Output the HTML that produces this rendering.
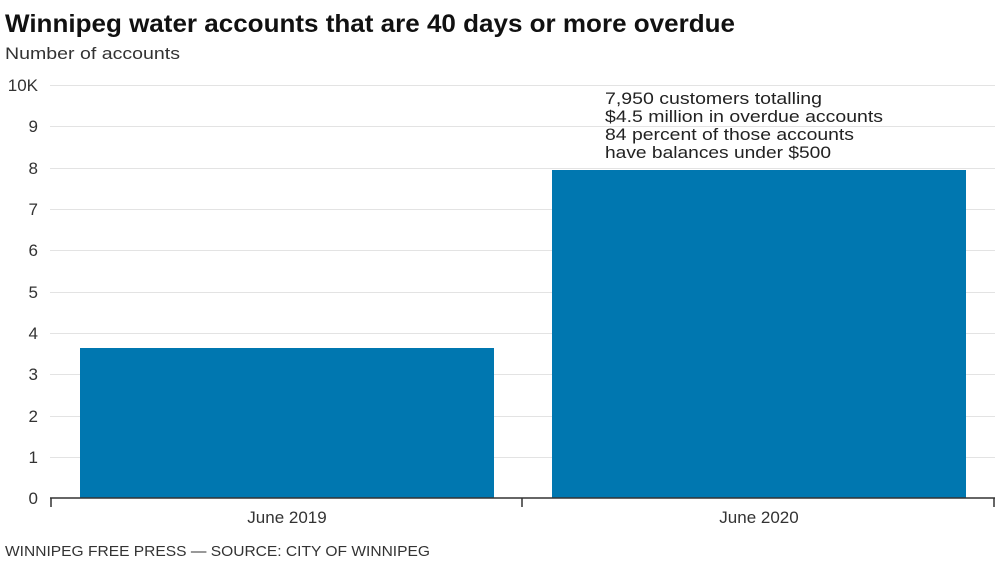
<!DOCTYPE html>
<html><head><meta charset="utf-8"><style>
body{margin:0;background:#fff;}
svg text{font-family:"Liberation Sans",sans-serif;}
</style></head><body>
<svg width="1000" height="561" xmlns="http://www.w3.org/2000/svg">
<text x="5" y="32" font-size="25" font-weight="bold" fill="#111" textLength="730" lengthAdjust="spacingAndGlyphs">Winnipeg water accounts that are 40 days or more overdue</text>
<text x="5" y="59" font-size="17" fill="#333" textLength="175" lengthAdjust="spacingAndGlyphs">Number of accounts</text>
<g stroke="#e3e3e3" stroke-width="1">
<line x1="50" x2="995" y1="85.5" y2="85.5"/><line x1="50" x2="995" y1="126.5" y2="126.5"/>
<line x1="50" x2="995" y1="168.5" y2="168.5"/><line x1="50" x2="995" y1="209.5" y2="209.5"/>
<line x1="50" x2="995" y1="250.5" y2="250.5"/><line x1="50" x2="995" y1="292.5" y2="292.5"/>
<line x1="50" x2="995" y1="333.5" y2="333.5"/><line x1="50" x2="995" y1="374.5" y2="374.5"/>
<line x1="50" x2="995" y1="416.5" y2="416.5"/><line x1="50" x2="995" y1="457.5" y2="457.5"/>
</g>
<g font-size="17" fill="#333" text-anchor="end">
<text x="38" y="91">10K</text><text x="38" y="132">9</text><text x="38" y="174">8</text>
<text x="38" y="215">7</text><text x="38" y="256">6</text><text x="38" y="298">5</text>
<text x="38" y="339">4</text><text x="38" y="380">3</text><text x="38" y="422">2</text>
<text x="38" y="463">1</text><text x="38" y="504">0</text>
</g>
<rect x="80" y="348" width="414" height="150" fill="#0077b0"/>
<rect x="552" y="170" width="414" height="328" fill="#0077b0"/>
<g stroke="#333" stroke-width="1.5">
<line x1="50" x2="995" y1="498" y2="498"/>
<line x1="51" x2="51" y1="498" y2="507"/>
<line x1="522" x2="522" y1="498" y2="507"/>
<line x1="994" x2="994" y1="498" y2="507"/>
</g>
<g font-size="17" fill="#333" text-anchor="middle">
<text x="287" y="523">June 2019</text><text x="759" y="523">June 2020</text>
</g>
<g font-size="17" fill="#222">
<text x="605" y="104" textLength="217" lengthAdjust="spacingAndGlyphs">7,950 customers totalling</text>
<text x="605" y="122" textLength="278" lengthAdjust="spacingAndGlyphs">$4.5 million in overdue accounts</text>
<text x="605" y="140" textLength="249" lengthAdjust="spacingAndGlyphs">84 percent of those accounts</text>
<text x="605" y="158" textLength="226" lengthAdjust="spacingAndGlyphs">have balances under $500</text>
</g>
<text x="5" y="556" font-size="15" fill="#333" textLength="425" lengthAdjust="spacingAndGlyphs">WINNIPEG FREE PRESS — SOURCE: CITY OF WINNIPEG</text>
</svg>
</body></html>
